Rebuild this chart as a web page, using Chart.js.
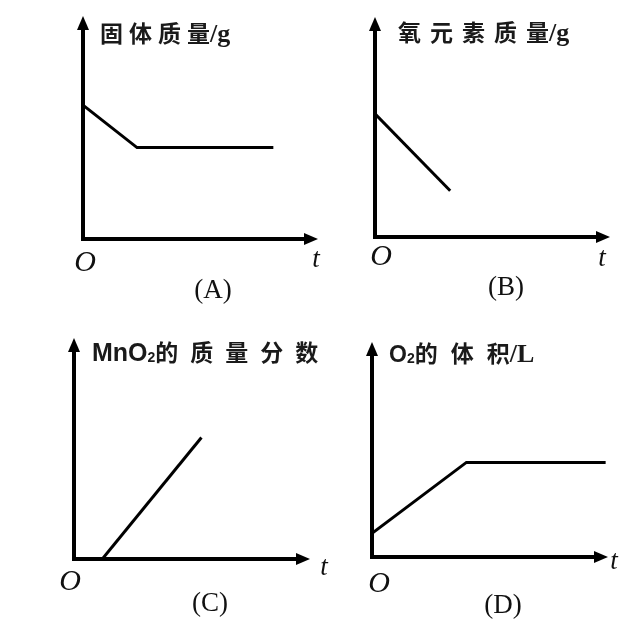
<!DOCTYPE html>
<html>
<head>
<meta charset="utf-8">
<script src="https://cdn.jsdelivr.net/npm/chart.js@4"></script>
<style>
  body { margin: 0; background: #fff; }
  #wrap { position: relative; width: 640px; height: 630px; overflow: hidden; }
  canvas { position: absolute; }
  .lbl { position: absolute; white-space: nowrap; color: #111; transform: translate(-50%, -50%); }
  .ttl { position: absolute; white-space: nowrap; color: #1a1a1a; transform: translateY(-50%);
         font-family: "Noto Sans CJK SC", sans-serif; font-size: 23px; font-weight: bold; line-height: 1; }
  .lat { font-family: "Liberation Sans", Arial, sans-serif; font-weight: bold; letter-spacing: 0; }
  .ser { font-family: "Liberation Serif", "Times New Roman", serif; font-weight: bold; font-size: 26px; }
  .sub { font-size: 14px; vertical-align: -1px; }
  .ital { font-family: "Liberation Serif", "Times New Roman", serif; font-style: italic; }
  .pan { font-family: "Liberation Serif", "Times New Roman", serif; font-size: 27px; }
</style>
</head>
<body>
<div id="wrap">
  <canvas id="cA" width="320" height="315" style="left:0;top:0"></canvas>
  <canvas id="cB" width="320" height="315" style="left:320px;top:0"></canvas>
  <canvas id="cC" width="320" height="315" style="left:0;top:315px"></canvas>
  <canvas id="cD" width="320" height="315" style="left:320px;top:315px"></canvas>

  <div class="ttl" style="left:100px;top:34px"><span style="letter-spacing:6px">固体质</span>量<span class="ser">/g</span></div>
  <div class="ttl" style="left:398px;top:33px"><span style="letter-spacing:9px">氧元素质</span>量<span class="ser">/g</span></div>
  <div class="ttl" style="left:92px;top:352px"><span class="lat" style="font-size:25px">MnO<span class="sub">2</span></span><span style="letter-spacing:12px">的质量分</span>数</div>
  <div class="ttl" style="left:389px;top:354px"><span class="lat" style="font-size:23px">O<span class="sub">2</span></span><span style="letter-spacing:13px">的体</span>积<span class="ser">/L</span></div>

  <div class="lbl ital" style="left:85px;top:261px;font-size:30px">O</div>
  <div class="lbl ital" style="left:381px;top:255px;font-size:30px">O</div>
  <div class="lbl ital" style="left:70px;top:580px;font-size:30px">O</div>
  <div class="lbl ital" style="left:379px;top:582px;font-size:30px">O</div>
  <div class="lbl ital" style="left:316px;top:258px;font-size:27px">t</div>
  <div class="lbl ital" style="left:602px;top:257px;font-size:27px">t</div>
  <div class="lbl ital" style="left:324px;top:566px;font-size:27px">t</div>
  <div class="lbl ital" style="left:614px;top:560px;font-size:27px">t</div>

  <div class="lbl pan" style="left:213px;top:289px">(A)</div>
  <div class="lbl pan" style="left:506px;top:286px">(B)</div>
  <div class="lbl pan" style="left:210px;top:602px">(C)</div>
  <div class="lbl pan" style="left:503px;top:604px">(D)</div>
</div>
<script>
// 各图的数据 (t 轴 0-10, 纵轴 0-10)
const timeA = [0, 2.3, 8.1];
const solidMassA = [6.0, 4.1, 4.1];

const timeB = [0, 3.2];
const oxygenMassB = [5.6, 2.1];

const timeC = [1.2, 5.4];
const mnO2FractionC = [0, 5.5];

const timeD = [0, 4.0, 9.9];
const o2VolumeD = [1.1, 4.4, 4.4];

// 带箭头的坐标轴
const arrowAxes = {
  id: 'arrowAxes',
  afterDatasetsDraw(chart) {
    const { ctx, scales: { x, y } } = chart;
    const x0 = x.getPixelForValue(0), xEnd = x.getPixelForValue(x.max);
    const y0 = y.getPixelForValue(0), yTop = y.getPixelForValue(y.max);
    const len = 14, half = 6;
    ctx.save();
    ctx.strokeStyle = '#000';
    ctx.fillStyle = '#000';
    ctx.lineWidth = 4;
    ctx.lineCap = 'square';
    ctx.beginPath();
    ctx.moveTo(x0, yTop + len - 1);
    ctx.lineTo(x0, y0);
    ctx.lineTo(xEnd - len + 1, y0);
    ctx.stroke();
    ctx.beginPath();
    ctx.moveTo(xEnd, y0);
    ctx.lineTo(xEnd - len, y0 - half);
    ctx.lineTo(xEnd - len, y0 + half);
    ctx.closePath();
    ctx.fill();
    ctx.beginPath();
    ctx.moveTo(x0, yTop);
    ctx.lineTo(x0 - half, yTop + len);
    ctx.lineTo(x0 + half, yTop + len);
    ctx.closePath();
    ctx.fill();
    ctx.restore();
  }
};

function makeChart(id, xs, ys, pad) {
  new Chart(document.getElementById(id), {
    type: 'line',
    data: {
      datasets: [{
        data: xs.map((t, i) => ({ x: t, y: ys[i] })),
        borderColor: '#000',
        borderWidth: 3,
        pointRadius: 0,
        tension: 0,
        fill: false
      }]
    },
    options: {
      responsive: false,
      animation: false,
      layout: { padding: pad },
      plugins: { legend: { display: false }, tooltip: { enabled: false } },
      scales: {
        x: { type: 'linear', min: 0, max: 10, display: false },
        y: { type: 'linear', min: 0, max: 10, display: false }
      }
    },
    plugins: [arrowAxes]
  });
}

makeChart('cA', timeA, solidMassA, { left: 83, right: 2, top: 16, bottom: 76 });
makeChart('cB', timeB, oxygenMassB, { left: 55, right: 30, top: 17, bottom: 78 });
makeChart('cC', timeC, mnO2FractionC, { left: 74, right: 10, top: 23, bottom: 71 });
makeChart('cD', timeD, o2VolumeD, { left: 52, right: 32, top: 27, bottom: 73 });
</script>
</body>
</html>
